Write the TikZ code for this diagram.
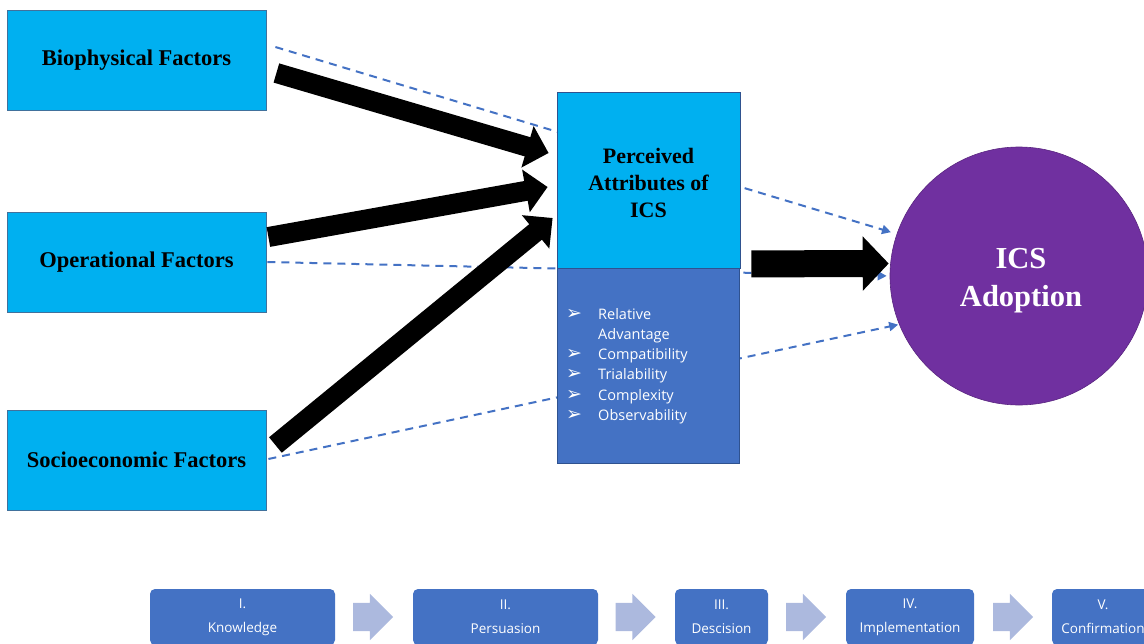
\documentclass[tikz,border=0pt]{standalone}
\usepackage{fontspec}
\setmainfont{Liberation Serif}
\newfontfamily\uifont{Open Sans}
\newfontfamily\symfont{DejaVu Sans}
\usetikzlibrary{arrows.meta,shapes.arrows,backgrounds,calc}

\definecolor{factorfill}{RGB}{0,176,240}
\definecolor{factorline}{RGB}{65,113,156}
\definecolor{attrblue}{RGB}{68,114,196}
\definecolor{attrline}{RGB}{47,82,143}
\definecolor{adoptfill}{RGB}{112,48,160}
\definecolor{chevfill}{RGB}{172,185,222}

\newcommand{\attrbullet}{{\symfont\fontsize{19}{20.3}\selectfont ➢}}

\begin{document}
\begin{tikzpicture}[x=1pt,y=-1pt,
  factor/.style={draw=factorline, line width=0.8pt, fill=factorfill,
    minimum width=259pt, minimum height=100pt, inner sep=0pt,
    font=\fontsize{22.5}{26}\selectfont\bfseries},
  percbox/.style={draw=attrline, line width=0.8pt, fill=factorfill,
    minimum width=183pt, minimum height=176pt, inner sep=0pt},
  attrbox/.style={draw=attrline, line width=0.8pt, fill=attrblue,
    minimum width=182pt, minimum height=195pt, inner sep=0pt},
  listtext/.style={inner sep=0pt, text=white,
    font=\uifont\fontsize{14.5}{20.3}\selectfont},
  adoptnode/.style={circle, draw=adoptfill!80!black, line width=0.6pt,
    fill=adoptfill, minimum size=258pt, inner sep=0pt},
  stage/.style={rounded corners=5pt, fill=attrblue, minimum height=56pt,
    inner sep=0pt, align=center, text=white,
    font=\uifont\fontsize{13.5}{24}\selectfont},
  chev/.style={single arrow, fill=chevfill, minimum height=40pt,
    inner xsep=0pt, inner ysep=14pt, single arrow head extend=9pt},
  bigarrow/.style={draw=black, line width=20pt,
    -{Triangle[length=22pt,width=42pt]}},
  mainarrow/.style={draw=black, line width=27pt,
    -{Triangle[length=26pt,width=53pt]}},
  dashline/.style={draw=attrblue, line width=2pt, dash pattern=on 8pt off 6pt,
    -{Triangle[length=9pt,width=9pt]}}
]
\useasboundingbox (0,0) rectangle (1144,643);
\clip (0,0) rectangle (1144,643);

% factor boxes on the left
\node[factor] (bio) at (136.5,60)  {Biophysical Factors};
\node[factor] (ops) at (136.5,262) {Operational Factors};
\node[factor] (soc) at (136.5,460) {Socioeconomic Factors};

% perceived attributes with its list of attributes
\node[percbox] (perc) at (648.5,180) {};
\node[inner sep=0pt, align=center, font=\fontsize{22}{27}\selectfont\bfseries]
  (perctext) at (648.5,183) {Perceived\\Attributes of\\ICS};
\node[attrbox] (attrs) at (648,365.5) {};
\node[listtext, anchor=base west] (attrlist) at (566,319) {%
  \begin{tabular}[t]{@{}p{32pt}@{}l@{}}
  \attrbullet & Relative\\
   & Advantage\\
  \attrbullet & Compatibility\\
  \attrbullet & Trialability\\
  \attrbullet & Complexity\\
  \attrbullet & Observability
  \end{tabular}};

% adoption circle
\node[adoptnode] (adopt) at (1019,276) {};
\node[inner sep=0pt, align=center, text=white,
  font=\fontsize{30.5}{38}\selectfont\bfseries] (adopttext) at (1021,281)
  {ICS\\Adoption};

% dashed direct effects, running behind the boxes
\begin{scope}[on background layer]
  \draw[dashline, shorten >=6pt] ([shift={(9,-13)}]bio.east) -- (adopt.161);
  \draw[dashline, shorten >=3pt] ([shift={(1,0)}]ops.east) -- (adopt.180);
  \draw[dashline, shorten >=1pt] ([shift={(2,-1)}]soc.east) -- (adopt.202);
\end{scope}

% block arrows into the perceived attributes
\draw[bigarrow] ([shift={(10,13)}]bio.east) -- ([shift={(-8,-27)}]perc.west);
\draw[bigarrow] ([shift={(2,-25)}]ops.east) -- ([shift={(-9,7)}]perc.west);
\draw[bigarrow] ([shift={(9,-15)}]soc.east) -- ([shift={(-4,38)}]perc.west);
\draw[mainarrow] ([shift={(11,-4.5)}]perc.south east) -- ([shift={(-1,-12.5)}]adopt.west);

% innovation-decision stages
\node[stage, minimum width=185pt] (s1) at (242.5,617) {I.\\Knowledge};
\node[stage, minimum width=185pt] (s2) at (505.5,617) {II.\\Persuasion};
\node[stage, minimum width=93pt]  (s3) at (721.5,617) {III.\\Descision};
\node[stage, minimum width=128pt] (s4) at (910,617)   {IV.\\Implementation};
\node[stage, minimum width=102pt] (s5) at (1103,617)  {V.\\Confirmation};

\node[chev, xshift=-8pt] (c1) at ($(s1.east)!0.5!(s2.west)$) {};
\node[chev, xshift=-8pt] (c2) at ($(s2.east)!0.5!(s3.west)$) {};
\node[chev, xshift=-8pt] (c3) at ($(s3.east)!0.5!(s4.west)$) {};
\node[chev, xshift=-7pt] (c4) at ($(s4.east)!0.5!(s5.west)$) {};
\end{tikzpicture}
\end{document}
